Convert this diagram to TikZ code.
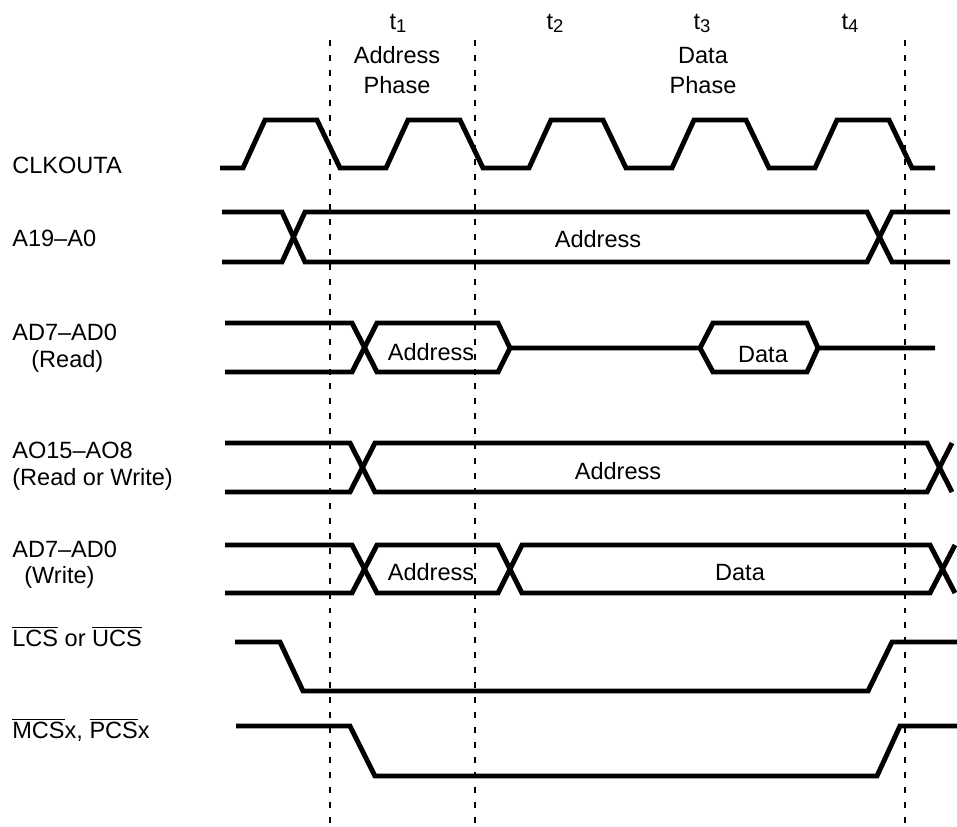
\documentclass[tikz,border=0pt]{standalone}
\usepackage{fontspec}
\setmainfont{Liberation Sans}
\newcommand\diagfont{\fontsize{13.4}{16}\selectfont}
\newcommand\tsub[1]{\raisebox{-0.3ex}{\fontsize{10.5}{12}\selectfont #1}}
\tikzset{
  wave/.style={line width=2.8pt},
  guide/.style={line width=0.6pt, dash pattern=on 3.4pt off 5.1pt},
  signame/.style={font=\diagfont, inner sep=0pt, anchor=base west},
  txt/.style={font=\diagfont, inner sep=0pt, anchor=base}
}

\begin{document}
\begin{tikzpicture}[x=0.02cm, y=-0.02cm]
  \useasboundingbox (0,0) rectangle (957,826);

  % phase boundaries
  \foreach \gx in {330,475,905}
    \draw[guide] (\gx,40) -- (\gx,825);

  % time marks and phases
  \node[txt] (t1) at (398,29) {t\tsub{1}};
  \node[txt] (t2) at (555,29) {t\tsub{2}};
  \node[txt] (t3) at (702,29) {t\tsub{3}};
  \node[txt] (t4) at (850,29) {t\tsub{4}};
  \node[txt] (addrphase) at (397,63) {Address};
  \node[txt] (addrphase2) at (397,93) {Phase};
  \node[txt] (dataphase) at (703,63) {Data};
  \node[txt] (dataphase2) at (703,93) {Phase};

  % signal names
  \node[signame] (clk) at (12,173) {CLKOUTA};
  \node[signame] (addr) at (12,246) {A19--A0};
  \node[signame] (adrd) at (12,340) {AD7--AD0};
  \node[signame] (adrd2) at (31,367) {(Read)};
  \node[signame] (ao) at (12,458) {AO15--AO8};
  \node[signame] (ao2) at (12,485) {(Read or Write)};
  \node[signame] (adwr) at (12,557) {AD7--AD0};
  \node[signame] (adwr2) at (24,583) {(Write)};
  \node[signame] (lcs) at (12,646) {$\overline{\mbox{LCS}}$ or $\overline{\mbox{UCS}}$};
  \node[signame] (mcs) at (12,738) {$\overline{\mbox{MCS}}$x, $\overline{\mbox{PCS}}$x};

  % CLKOUTA
  \draw[wave] (220,168)
    \foreach \c in {243,386,529,672,815} {
      -- (\c,168) -- (\c+22,120) -- (\c+74,120) -- (\c+97,168) }
    -- (935,168);

  % A19-A0
  \draw[wave] (222,212) -- (282,212) -- (305,262) -- (867,262) -- (892,212) -- (950,212);
  \draw[wave] (222,262) -- (282,262) -- (305,212) -- (867,212) -- (892,262) -- (950,262);
  \node[txt] (addrval) at (598,247) {Address};

  % AD7-AD0 read
  \draw[wave] (225,323) -- (352,323) -- (377,372) -- (498,372) -- (510,348)
    -- (700,348) -- (713,323) -- (807,323) -- (818,348) -- (935,348);
  \draw[wave] (225,372) -- (352,372) -- (377,323) -- (498,323) -- (510,348);
  \draw[wave] (700,348) -- (713,372) -- (807,372) -- (818,348);
  \node[txt] (rdaddr) at (431,360) {Address};
  \node[txt] (rddata) at (763,362) {Data};

  % AO15-AO8
  \draw[wave] (225,443) -- (350,443) -- (375,492) -- (927,492) -- (952,443);
  \draw[wave] (225,492) -- (350,492) -- (375,443) -- (927,443) -- (952,492);
  \node[txt] (aoaddr) at (618,479) {Address};

  % AD7-AD0 write
  \draw[wave] (225,545) -- (352,545) -- (377,593) -- (498,593) -- (522,545) -- (930,545) -- (955,593);
  \draw[wave] (225,593) -- (352,593) -- (377,545) -- (498,545) -- (522,593) -- (930,593) -- (955,545);
  \node[txt] (wraddr) at (431,580) {Address};
  \node[txt] (wrdata) at (740,580) {Data};

  % chip selects
  \draw[wave] (235,642) -- (280,642) -- (303,691) -- (868,691) -- (892,642) -- (957,642);
  \draw[wave] (236,726) -- (350,726) -- (375,776) -- (877,776) -- (900,726) -- (957,726);
\end{tikzpicture}
\end{document}
